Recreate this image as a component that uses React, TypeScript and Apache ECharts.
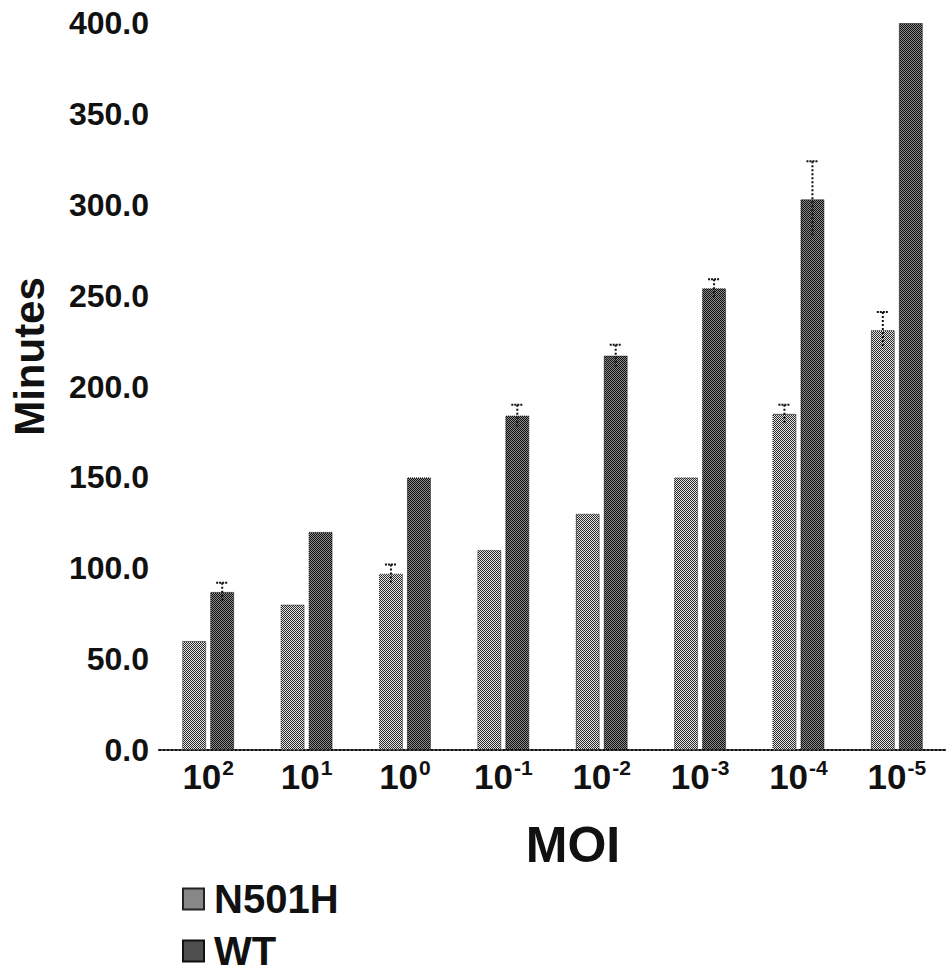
import React, { useEffect, useRef } from "react";
import * as echarts from "echarts";

const exponents = ["2", "1", "0", "-1", "-2", "-3", "-4", "-5"];
const seriesNames = ["N501H", "WT"];
const n501hValues = [60, 80, 97, 110, 130, 150, 185, 231];
const wtValues = [87, 120, 150, 184, 217, 254, 303, 400];
const n501hErrors = [0, 0, 5, 0, 0, 0, 5, 10];
const wtErrors = [5, 0, 0, 6, 6, 5, 21, 0];
const yTicks = [0, 50, 100, 150, 200, 250, 300, 350, 400];

const FONT = "'Liberation Sans', Arial, Helvetica, sans-serif";
const BAR_W = 24;
const BAR_GAP = 4;

function makePattern(dark: string, light: string) {
  const c = document.createElement("canvas");
  c.width = 2;
  c.height = 2;
  const ctx = c.getContext("2d")!;
  ctx.fillStyle = light;
  ctx.fillRect(0, 0, 2, 2);
  ctx.fillStyle = dark;
  ctx.fillRect(0, 0, 1, 1);
  ctx.fillRect(1, 1, 1, 1);
  return { image: c, repeat: "repeat" } as any;
}

export default function App() {
  const ref = useRef<HTMLDivElement>(null);
  useEffect(() => {
    if (!ref.current) return;
    const chart = echarts.init(ref.current, undefined, { renderer: "svg" });
    const n501hColor = makePattern("#2a2a2a", "#e4e4e4");
    const wtColor = makePattern("#111111", "#8a8a8a");
    const offset = (BAR_W + BAR_GAP) / 2;

    const errData = (vals: number[], errs: number[]) =>
      vals
        .map((v, i) => [i, v, errs[i]])
        .filter((d) => d[2] > 0);

    const errRender = (dx: number) => (params: any, api: any) => {
      const i = api.value(0);
      const v = api.value(1);
      const e = api.value(2);
      const top = api.coord([i, v + e]);
      const bot = api.coord([i, v - e]);
      const x = top[0] + dx;
      return {
        type: "group",
        children: [
          {
            type: "line",
            shape: { x1: x, y1: top[1], x2: x, y2: bot[1] },
            style: { stroke: "#111", lineWidth: 2, lineDash: [2, 2] },
          },
          {
            type: "line",
            shape: { x1: x - 6, y1: top[1], x2: x + 6, y2: top[1] },
            style: { stroke: "#111", lineWidth: 2, lineDash: [2, 1] },
          },
        ],
      };
    };

    const legendBase = {
      orient: "vertical",
      left: 177,
      itemWidth: 21,
      itemHeight: 21,
      icon: "rect",
      textStyle: {
        fontFamily: FONT,
        fontSize: 40,
        fontWeight: "bold",
        color: "#111",
        lineHeight: 32,
        padding: [0, 0, 0, 5],
      },
    };

    chart.setOption({
      animation: false,
      backgroundColor: "#ffffff",
      grid: { left: 158, width: 793, top: 23, bottom: 224, containLabel: false },
      legend: [
        { ...legendBase, data: [seriesNames[0]], top: 874 },
        { ...legendBase, data: [seriesNames[1]], top: 926 },
      ],
      xAxis: {
        type: "category",
        data: exponents,
        name: "MOI",
        nameLocation: "middle",
        nameGap: 70,
        nameTextStyle: {
          fontFamily: FONT,
          fontSize: 50,
          fontWeight: "bold",
          color: "#111",
          padding: [0, 0, 0, 41],
        },
        axisLine: { show: true, lineStyle: { color: "#111", width: 2, type: "dotted" } },
        axisTick: { show: false },
        axisLabel: {
          margin: 7,
          formatter: (v: string) => `{b|10}{s|${v}}`,
          rich: {
            b: { fontFamily: FONT, fontSize: 35, fontWeight: "bold", color: "#111", lineHeight: 38 },
            s: {
              fontFamily: FONT,
              fontSize: 21,
              fontWeight: "bold",
              color: "#111",
              lineHeight: 20,
              verticalAlign: "top",
              padding: [0, 0, 0, 1],
            },
          },
        },
      },
      yAxis: {
        type: "value",
        min: yTicks[0],
        max: yTicks[yTicks.length - 1],
        interval: 50,
        name: "Minutes",
        nameLocation: "middle",
        nameRotate: 90,
        nameGap: 109,
        nameTextStyle: {
          fontFamily: FONT,
          fontSize: 42,
          fontWeight: "bold",
          color: "#111",
          padding: [0, 0, 0, 60],
        },
        axisLine: { show: false },
        axisTick: { show: false },
        splitLine: { show: false },
        axisLabel: {
          margin: 10,
          fontFamily: FONT,
          fontSize: 32,
          fontWeight: "bold",
          color: "#111",
          formatter: (v: number) => v.toFixed(1),
        },
      },
      series: [
        {
          name: seriesNames[0],
          type: "bar",
          data: n501hValues,
          barWidth: BAR_W,
          barGap: `${(BAR_GAP / BAR_W) * 100}%`,
          itemStyle: { color: n501hColor, borderColor: "#222", borderWidth: 1, borderType: "dotted" },
        },
        {
          name: seriesNames[1],
          type: "bar",
          data: wtValues,
          barWidth: BAR_W,
          itemStyle: { color: wtColor, borderColor: "#111", borderWidth: 1, borderType: "dotted" },
        },
        {
          name: "N501H err",
          type: "custom",
          data: errData(n501hValues, n501hErrors),
          encode: { x: 0, y: 1 },
          renderItem: errRender(-offset),
          z: 5,
        },
        {
          name: "WT err",
          type: "custom",
          data: errData(wtValues, wtErrors),
          encode: { x: 0, y: 1 },
          renderItem: errRender(offset),
          z: 5,
        },
      ],
    });
    return () => chart.dispose();
  }, []);
  return (
    <div
      ref={ref}
      style={{ position: "fixed", left: 0, top: 0, width: 946, height: 974, background: "#fff" }}
    />
  );
}
